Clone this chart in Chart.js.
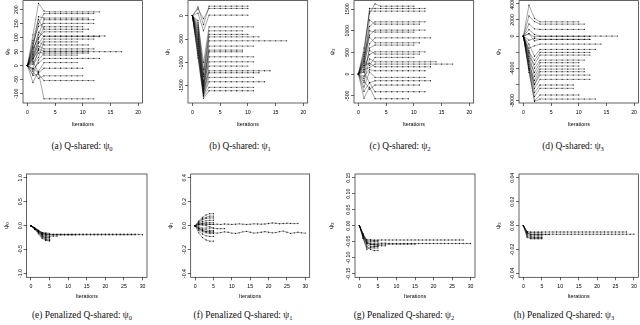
<!DOCTYPE html>
<html>
<head>
<meta charset="utf-8">
<script src="https://cdn.jsdelivr.net/npm/chart.js@4.4.0/dist/chart.umd.min.js"></script>
<style>
  html, body { margin: 0; padding: 0; background: #fff; }
  body { width: 640px; height: 325px; position: relative; overflow: hidden; }
  .cap { position: absolute; z-index: 2; font-family: "Liberation Serif", serif; font-size: 9.4px; white-space: nowrap; transform: translate(-50%, -50%); color: #111; }
  .cap sub { font-size: 70%; vertical-align: -0.3em; line-height: 0; }
</style>
</head>
<body>
<div class="cap" style="left:82px;top:146px">(a) Q-shared: ψ<sub>0</sub></div>
<div class="cap" style="left:240px;top:146px">(b) Q-shared: ψ<sub>1</sub></div>
<div class="cap" style="left:400px;top:146px">(c) Q-shared: ψ<sub>2</sub></div>
<div class="cap" style="left:573px;top:146px">(d) Q-shared: ψ<sub>3</sub></div>
<div class="cap" style="left:82px;top:315px">(e) Penalized Q-shared: ψ<sub>0</sub></div>
<div class="cap" style="left:243px;top:315px">(f) Penalized Q-shared: ψ<sub>1</sub></div>
<div class="cap" style="left:404px;top:315px">(g) Penalized Q-shared: ψ<sub>2</sub></div>
<div class="cap" style="left:564px;top:315px">(h) Penalized Q-shared: ψ<sub>3</sub></div>
<script>
// iteration index (x values)
const iterations = [0, 1, 2, 3, 4, 5, 6, 7, 8, 9, 10, 11, 12, 13, 14, 15, 16, 17, 18, 19, 20, 21, 22, 23, 24, 25, 26, 27, 28, 29, 30];
const xTicksShared = [0, 5, 10, 15, 20];
const xTicksPenalized = [0, 5, 10, 15, 20, 25, 30];

// y ticks / labels
const yTicksA = [-100, -50, 0, 50, 100, 150, 200];
const yLabelsA = ['-100', '-50', '0', '50', '100', '150', '200'];
const yTicksB = [-1500, -1000, -500, 0];
const yLabelsB = ['-1500', '-1000', '-500', '0'];
const yTicksC = [-500, 0, 500, 1000, 1500];
const yLabelsC = ['-500', '0', '500', '1000', '1500'];
const yTicksD = [-8000, -6000, -4000, -2000, 0, 2000, 4000];
const yLabelsD = ['-8000', '', '-4000', '', '0', '2000', '4000'];
const yTicksE = [-1, -0.5, 0, 0.5, 1];
const yLabelsE = ['-1.0', '-0.5', '0.0', '0.5', '1.0'];
const yTicksF = [-0.4, -0.2, 0, 0.2, 0.4];
const yLabelsF = ['-0.4', '-0.2', '0.0', '0.2', '0.4'];
const yTicksG = [-0.15, -0.1, -0.05, 0, 0.05, 0.1, 0.15];
const yLabelsG = ['-0.15', '-0.10', '-0.05', '0.00', '0.05', '0.10', '0.15'];
const yTicksH = [-0.04, -0.02, 0, 0.02, 0.04];
const yLabelsH = ['-0.04', '-0.02', '0.00', '0.02', '0.04'];

// (a) Q-shared psi0 trajectories, one value per iteration
const psi0Shared = [
  [0, 110, 222, 195, 192, 192, 192, 192, 192, 192, 192, 192, 192, 192],
  [0, 70, 150, 186, 186, 186, 186, 186, 186, 186, 186, 186, 186],
  [0, 65, 175, 170, 170, 170, 170, 170, 170, 170, 170, 170],
  [0, 50, 110, 164, 164, 164, 164, 164, 164, 164, 164, 164, 164],
  [0, 80, 140, 151, 151, 151, 151, 151, 151, 151, 151, 151, 151],
  [0, 30, 95, 139, 139, 139, 139, 139, 139, 139, 139],
  [0, 90, 165, 130, 130, 130, 130, 130, 130, 130, 130, 130],
  [0, 60, 100, 121, 121, 121, 121, 121, 121, 121, 121],
  [0, 20, 80, 106, 106, 106, 106, 106, 106, 106, 106, 106, 106, 106, 106],
  [0, 45, 120, 104, 104, 104, 104, 104, 104, 104, 104, 104, 104, 104],
  [0, -10, 60, 95, 95, 95, 95, 95, 95, 95, 95, 95, 95],
  [0, 5, 30, 85, 85, 85, 85, 85, 85, 85],
  [0, 40, 85, 74, 74, 74, 74, 74, 74, 74, 74, 74],
  [0, 35, 70, 60, 60, 60, 60, 60, 60, 60, 60, 60, 60],
  [0, 10, 45, 50, 50, 50, 50, 50, 50, 50, 50, 50, 50, 50, 50, 50, 50, 50],
  [0, 25, 60, 52, 52, 52, 52, 52, 52, 52, 52, 52],
  [0, -30, 20, 45, 45, 45, 45, 45, 45, 45, 45, 45],
  [0, 25, 55, 38, 38, 38, 38, 38, 38, 38],
  [0, -15, 10, 26, 26, 26, 26, 26, 26, 26, 26, 26, 26, 26],
  [0, -60, -20, 11, 11, 11, 11, 11, 11, 11],
  [0, 15, -25, -9, -9, -9, -9, -9, -9, -9, -9],
  [0, -20, -45, -36, -36, -36, -36, -36, -36, -36, -36],
  [0, -35, -30, -53, -53, -53, -53, -53, -53, -53, -53, -53, -53],
  [0, -10, -25, -118, -118, -118, -118, -118, -118, -118, -118, -118, -118]
];

// (b) Q-shared psi1
const psi1Shared = [
  [0, 190, -190, 207, 207, 207, 207, 207, 207, 207, 207],
  [0, 150, -60, 158, 158, 158, 158, 158, 158, 158, 158],
  [0, 60, -320, 15, 15, 15, 15, 15, 15, 15, 15],
  [0, -150, -1000, -235, -235, -235, -235, -235, -235, -235, -235, -235],
  [0, -250, -1150, -320, -320, -320, -320, -320, -320, -320],
  [0, -400, -1300, -397, -397, -397, -397, -397, -397, -397, -397],
  [0, -100, -1250, -449, -449, -449, -449, -449, -449, -449, -449, -449, -449],
  [0, -300, -1450, -534, -534, -534, -534, -534, -534, -534, -534, -534, -534, -534, -534, -534, -534, -534],
  [0, -500, -1500, -647, -647, -647, -647, -647, -647, -647, -647, -647],
  [0, -600, -1550, -733, -733, -733, -733, -733, -733, -733],
  [0, -200, -1400, -769, -769, -769, -769, -769, -769, -769],
  [0, -700, -1600, -876, -876, -876, -876, -876, -876, -876, -876, -876],
  [0, -350, -1500, -983, -983, -983, -983, -983, -983, -983, -983, -983],
  [0, -800, -1650, -1075, -1075, -1075, -1075, -1075, -1075, -1075, -1075],
  [0, -450, -1600, -1175, -1175, -1175, -1175, -1175, -1175, -1175, -1175, -1175, -1175, -1175, -1175],
  [0, -550, -1650, -1218, -1218, -1218, -1218, -1218, -1218, -1218, -1218, -1218, -1218],
  [0, -650, -1700, -1316, -1316, -1316, -1316, -1316, -1316, -1316, -1316, -1316],
  [0, -750, -1700, -1410, -1410, -1410, -1410, -1410, -1410, -1410, -1410, -1410, -1410, -1410],
  [0, -900, -1720, -1530, -1530, -1530, -1530, -1530, -1530, -1530, -1530, -1530],
  [0, -850, -1765, -1603, -1603, -1603, -1603, -1603, -1603, -1603, -1603, -1603]
];

// (c) Q-shared psi2
const psi2Shared = [
  [0, 600, 1400, 1620, 1567, 1567, 1567, 1567, 1567, 1567, 1567],
  [0, 400, 1513, 1513, 1513, 1513, 1513, 1513, 1513, 1513, 1513, 1513, 1513],
  [0, 500, 1452, 1452, 1452, 1452, 1452, 1452, 1452, 1452, 1452, 1452, 1452],
  [0, 300, 1100, 1205, 1205, 1205, 1205, 1205, 1205, 1205, 1205, 1205, 1205],
  [0, 200, 1250, 1152, 1152, 1152, 1152, 1152, 1152, 1152, 1152, 1152],
  [0, 450, 900, 1014, 1014, 1014, 1014, 1014, 1014, 1014, 1014, 1014, 1014],
  [0, 100, 1000, 968, 968, 968, 968, 968, 968, 968, 968],
  [0, 250, 700, 836, 836, 836, 836, 836, 836, 836, 836, 836, 836, 836],
  [0, 350, 850, 721, 721, 721, 721, 721, 721, 721, 721, 721],
  [0, -100, 600, 668, 668, 668, 668, 668, 668, 668, 668],
  [0, 150, 450, 514, 514, 514, 514, 514, 514, 514, 514, 514, 514],
  [0, 50, 550, 461, 461, 461, 461, 461, 461, 461, 461, 461],
  [0, 300, 200, 385, 385, 385, 385, 385, 385, 385, 385],
  [0, -200, 350, 283, 283, 283, 283, 283, 283, 283, 283, 283, 283, 283, 283],
  [0, 100, 150, 230, 230, 230, 230, 230, 230, 230, 230, 230, 230, 230, 230, 230, 230, 230],
  [0, 200, 250, 168, 168, 168, 168, 168, 168, 168, 168, 168, 168, 168],
  [0, -50, 100, 76, 76, 76, 76, 76, 76, 76, 76, 76, 76],
  [0, -300, 50, -76, -76, -76, -76, -76, -76, -76, -76, -76, -76],
  [0, 50, -200, -154, -154, -154, -154, -154, -154, -154, -154, -154, -154, -154],
  [0, -150, -350, -253, -253, -253, -253, -253, -253, -253, -253, -253],
  [0, -400, -200, -408, -408, -408, -408, -408, -408, -408, -408, -408, -408],
  [0, -560, -300, -570, -570, -570, -570, -570, -570, -570]
];

// (d) Q-shared psi3
const psi3Shared = [
  [0, 3837, 2200, 1770, 1770, 1770, 1770, 1770, 1770, 1770, 1770],
  [0, 2500, 1800, 1485, 1485, 1485, 1485, 1485, 1485, 1485, 1485, 1485],
  [0, 1500, 900, 830, 830, 830, 830, 830, 830, 830, 830, 830],
  [0, 800, 200, 0, 0, 0, 0, 0, 0, 0, 0, 0, 0, 0, 0, 0, 0, 0],
  [0, 300, -100, -30, -30, -30, -30, -30, -30, -30, -30, -30, -30],
  [0, -500, -300, -410, -410, -410, -410, -410, -410, -410, -410, -410, -410],
  [0, 300, -600, -400, -400, -400, -400, -400, -400, -400, -400, -400, -400],
  [0, -1500, -1200, -990, -990, -990, -990, -990, -990, -990, -990, -990, -990, -990, -990],
  [0, -1000, -2500, -1650, -1650, -1650, -1650, -1650, -1650, -1650, -1650, -1650, -1650, -1650],
  [0, -2000, -3000, -2020, -2020, -2020, -2020, -2020, -2020, -2020, -2020, -2020, -2020],
  [0, -2500, -3500, -2350, -2350, -2350, -2350, -2350, -2350, -2350, -2350, -2350, -2350],
  [0, -1800, -4000, -2970, -2970, -2970, -2970, -2970, -2970, -2970, -2970, -2970],
  [0, -3000, -4500, -3300, -3300, -3300, -3300, -3300, -3300, -3300, -3300],
  [0, -2200, -5000, -3710, -3710, -3710, -3710, -3710, -3710, -3710, -3710],
  [0, -3500, -5500, -4085, -4085, -4085, -4085, -4085, -4085, -4085, -4085, -4085],
  [0, -2800, -6000, -4415, -4415, -4415, -4415, -4415, -4415, -4415, -4415, -4415],
  [0, -4000, -6000, -4830, -4830, -4830, -4830, -4830, -4830, -4830, -4830, -4830, -4830],
  [0, -3200, -6500, -5360, -5360, -5360, -5360, -5360, -5360, -5360, -5360, -5360, -5360],
  [0, -3800, -7000, -6060, -6060, -6060, -6060, -6060, -6060, -6060],
  [0, -4200, -7500, -6470, -6470, -6470, -6470, -6470, -6470, -6470],
  [0, -4500, -8000, -7300, -7300, -7300, -7300, -7300, -7300, -7300, -7300],
  [0, -4000, -8100, -7800, -7800, -7800, -7800, -7800, -7800, -7800, -7800, -7800, -7800, -7800]
];

// (e) penalized psi0
const psi0Penalized = [
  [0, -0.05, -0.1, -0.15, -0.17, -0.18],
  [0, -0.06, -0.12, -0.2, -0.24, -0.25],
  [0, -0.07, -0.15, -0.25, -0.29, -0.3],
  [0, -0.08, -0.17, -0.27, -0.31, -0.32],
  [0, -0.06, -0.13, -0.22, -0.27, -0.28],
  [0, -0.05, -0.11, -0.17, -0.22, -0.23],
  [0, -0.05, -0.1, -0.14, -0.15, -0.16],
  [0, -0.07, -0.14, -0.23, -0.25, -0.26],
  [0, -0.06, -0.13, -0.19, -0.3, -0.31],
  [0, -0.05, -0.11, -0.18, -0.21, -0.22, -0.22, -0.22],
  [0, -0.05, -0.1, -0.16, -0.18, -0.19, -0.19, -0.19, -0.19, -0.19, -0.19, -0.19, -0.19],
  [0, -0.05, -0.1, -0.15, -0.17, -0.18, -0.18, -0.18, -0.18, -0.18, -0.18, -0.18, -0.18, -0.18, -0.18, -0.18, -0.18, -0.18, -0.18, -0.18, -0.18, -0.18, -0.18, -0.18, -0.18, -0.18, -0.18, -0.18, -0.18, -0.185, -0.19],
  [0, -0.06, -0.12, -0.17, -0.19, -0.19, -0.19, -0.19, -0.19, -0.19, -0.19, -0.19, -0.19, -0.19, -0.19, -0.19, -0.19, -0.19, -0.19, -0.19, -0.19, -0.19, -0.19, -0.19, -0.19, -0.19, -0.19, -0.19, -0.19]
];

// (f) penalized psi1
const psi1Penalized = [
  [0, 0.04, 0.07, 0.09, 0.1, 0.1],
  [0, 0.03, 0.06, 0.07, 0.08, 0.08],
  [0, 0.03, 0.05, 0.06, 0.065, 0.065],
  [0, 0.02, 0.035, 0.04, 0.045, 0.045],
  [0, 0.01, 0.02, 0.025, 0.025, 0.025],
  [0, 0.005, 0.01, 0.01, 0.012, 0.012],
  [0, -0.01, -0.02, -0.02, -0.02, -0.02],
  [0, -0.02, -0.03, -0.035, -0.04, -0.04],
  [0, -0.025, -0.04, -0.05, -0.05, -0.05],
  [0, -0.03, -0.05, -0.06, -0.065, -0.065],
  [0, -0.04, -0.07, -0.085, -0.09, -0.09],
  [0, -0.06, -0.1, -0.12, -0.13, -0.13],
  [0, 0.01, 0.005, 0, -0.01, -0.02, -0.025, -0.025, -0.025],
  [0, 0.015, 0.02, 0.015, 0.01, 0.01, 0.012, 0.01, 0.014, 0.012, 0.01, 0.012, 0.015, 0.012, 0.01, 0.012, 0.015, 0.014, 0.012, 0.014, 0.018, 0.022, 0.02, 0.016, 0.018, 0.02, 0.018, 0.017, 0.018],
  [0, -0.02, -0.04, -0.05, -0.055, -0.06, -0.062, -0.058, -0.052, -0.055, -0.062, -0.065, -0.06, -0.052, -0.048, -0.055, -0.062, -0.06, -0.055, -0.05, -0.055, -0.06, -0.058, -0.05, -0.045, -0.055, -0.065, -0.06, -0.055, -0.06, -0.062]
];

// (g) penalized psi2
const psi2Penalized = [
  [0, -0.04, -0.07, -0.07, -0.07, -0.07],
  [0, -0.035, -0.065, -0.075, -0.078, -0.078],
  [0, -0.03, -0.05, -0.05, -0.05, -0.05],
  [0, -0.03, -0.055, -0.06, -0.06, -0.06],
  [0, -0.035, -0.06, -0.065, -0.065, -0.065],
  [0, -0.03, -0.045, -0.045, -0.047, -0.047],
  [0, -0.04, -0.075, -0.068, -0.066, -0.065],
  [0, -0.03, -0.055, -0.058, -0.06, -0.062, -0.063, -0.063],
  [0, -0.025, -0.045, -0.045, -0.045, -0.045, -0.045, -0.045, -0.045, -0.045, -0.045, -0.045, -0.045, -0.045, -0.045, -0.045, -0.045, -0.045, -0.045, -0.045, -0.045, -0.045, -0.045, -0.045, -0.045, -0.045, -0.045, -0.045, -0.045],
  [0, -0.03, -0.052, -0.055, -0.055, -0.055, -0.055, -0.055, -0.056, -0.056, -0.056, -0.056, -0.056, -0.056, -0.056, -0.056, -0.056, -0.056, -0.056, -0.056, -0.056, -0.056, -0.056, -0.056, -0.056, -0.056, -0.056, -0.056, -0.056, -0.056, -0.056],
  [0, -0.03, -0.055, -0.058, -0.058, -0.058, -0.058, -0.058, -0.058, -0.058, -0.058, -0.058, -0.058, -0.058, -0.058, -0.058]
];

// (h) penalized psi3
const psi3Penalized = [
  [0, -0.008, -0.01, -0.01, -0.01, -0.01],
  [0, -0.009, -0.011, -0.011, -0.011, -0.011],
  [0, -0.006, -0.008, -0.008, -0.008, -0.008],
  [0, -0.007, -0.009, -0.0095, -0.0095, -0.0095],
  [0, -0.005, -0.006, -0.006, -0.006, -0.006],
  [0, -0.01, -0.0105, -0.0105, -0.0105, -0.0105],
  [0, -0.006, -0.0075, -0.0075, -0.0075, -0.0075, -0.0075, -0.0075],
  [0, -0.005, -0.0053, -0.0053, -0.0053, -0.0053, -0.0053, -0.0053, -0.0053, -0.0053, -0.0053, -0.0053, -0.0053, -0.0053, -0.0053, -0.0053, -0.0053, -0.0053, -0.0053, -0.0053, -0.0053, -0.0053, -0.0053, -0.0053, -0.0053, -0.0053, -0.0053, -0.0053, -0.0053],
  [0, -0.006, -0.0072, -0.0072, -0.0072, -0.0072, -0.0072, -0.0072, -0.0072, -0.0072, -0.0072, -0.0072, -0.0072, -0.0072, -0.0072, -0.0072, -0.0072, -0.0072, -0.0072, -0.0072, -0.0072, -0.0072, -0.0072, -0.0072, -0.0072, -0.0072, -0.0072, -0.0072, -0.0072, -0.0072, -0.0072]
];

// panel layout (page pixels of the plot frame)
const panels = [
  { col: 0, row: 0, series: psi0Shared, yMin: -133, yMax: 232, yTicks: yTicksA, yLabels: yLabelsA, title: 'ψ₀', titleX: 7, box: { l: 23, r: 142.5, t: 0.5, b: 103 } },
  { col: 1, row: 0, series: psi1Shared, yMin: -1865, yMax: 325, yTicks: yTicksB, yLabels: yLabelsB, title: 'ψ₁', titleX: 7.3, box: { l: 188, r: 307.7, t: 0.5, b: 103 } },
  { col: 2, row: 0, series: psi2Shared, yMin: -668, yMax: 1694, yTicks: yTicksC, yLabels: yLabelsC, title: 'ψ₂', titleX: 12.7, box: { l: 354, r: 473.7, t: 0.5, b: 103 } },
  { col: 3, row: 0, series: psi3Shared, yMin: -8292, yMax: 4394, yTicks: yTicksD, yLabels: yLabelsD, title: 'ψ₃', titleX: 18, box: { l: 519, r: 638.5, t: 0.5, b: 103 } },
  { col: 0, row: 1, series: psi0Penalized, yMin: -1.08, yMax: 1.08, yTicks: yTicksE, yLabels: yLabelsE, title: 'ψ₀', titleX: 6, box: { l: 26.5, r: 147, t: 174, b: 277.3 } },
  { col: 1, row: 1, series: psi1Penalized, yMin: -0.432, yMax: 0.432, yTicks: yTicksF, yLabels: yLabelsF, title: 'ψ₁', titleX: 10, box: { l: 190.7, r: 309.7, t: 174, b: 277.3 } },
  { col: 2, row: 1, series: psi2Penalized, yMin: -0.162, yMax: 0.162, yTicks: yTicksG, yLabels: yLabelsG, title: 'ψ₂', titleX: 11, box: { l: 355, r: 475, t: 174, b: 277.3 } },
  { col: 3, row: 1, series: psi3Penalized, yMin: -0.0432, yMax: 0.0432, yTicks: yTicksH, yLabels: yLabelsH, title: 'ψ₃', titleX: 18, box: { l: 519, r: 638.3, t: 174, b: 277.3 } }
];

const sans = "'Liberation Sans', Arial, sans-serif";
const tickSize = 5.2;
const titleSize = 5.4;
const tickLen = 3;

const measureCtx = document.createElement('canvas').getContext('2d');
function widest(labels) {
  measureCtx.font = tickSize + 'px ' + sans;
  return Math.max(...labels.map(t => measureCtx.measureText(t).width));
}

// R style box around the plotting region
const frame = {
  id: 'frame',
  afterDraw(chart) {
    const a = chart.chartArea, c = chart.ctx;
    c.save();
    c.strokeStyle = '#222';
    c.lineWidth = 0.7;
    c.strokeRect(a.left, a.top, a.right - a.left, a.bottom - a.top);
    c.restore();
  }
};

function drawPanel(p) {
  const cx = p.col * 160;
  const cy = p.row === 0 ? 0 : 160;
  const cw = 160, ch = p.row === 0 ? 136 : 148;
  const xTitleY = p.row === 0 ? 125 : 297;
  const xTicks = p.row === 0 ? xTicksShared : xTicksPenalized;
  const xMax = xTicks[xTicks.length - 1];
  const xPad = xMax * 0.04;

  const canvas = document.createElement('canvas');
  canvas.width = cw;
  canvas.height = ch;
  canvas.style.cssText = 'position:absolute;left:' + cx + 'px;top:' + cy + 'px;width:' + cw + 'px;height:' + ch + 'px';
  document.body.appendChild(canvas);

  const b = p.box;
  const yAxisW = b.l - cx;
  const xAxisH = cy + ch - b.b;
  const labelGap = 6;   // distance frame -> centre of rotated label
  const yPad = labelGap - tickLen - widest(p.yLabels) / 2;

  new Chart(canvas, {
    type: 'line',
    data: {
      labels: iterations,
      datasets: p.series.map(s => ({
        data: s,
        borderColor: 'rgba(0,0,0,0.7)',
        borderWidth: 0.5,
        pointRadius: 0.65,
        pointHoverRadius: 0,
        pointBackgroundColor: 'rgba(0,0,0,0.85)',
        pointBorderWidth: 0,
        tension: 0
      }))
    },
    options: {
      responsive: false,
      animation: false,
      devicePixelRatio: 1,
      events: [],
      layout: { padding: { top: b.t - cy, right: cx + cw - b.r, left: 0, bottom: 0 } },
      plugins: { legend: { display: false }, tooltip: { enabled: false } },
      scales: {
        x: {
          type: 'linear',
          min: -xPad,
          max: xMax + xPad,
          afterBuildTicks: s => { s.ticks = xTicks.map(v => ({ value: v })); },
          afterFit: s => { s.height = xAxisH; s.paddingLeft = 0; s.paddingRight = 0; },
          border: { display: false },
          grid: { drawOnChartArea: false, drawTicks: true, tickLength: tickLen, tickColor: '#000', tickWidth: 0.6 },
          ticks: { color: '#000', font: { family: sans, size: tickSize }, padding: 3.5, maxRotation: 0, autoSkip: false,
                   callback: v => String(v) },
          title: { display: true, text: 'Iterations', color: '#000', font: { family: sans, size: titleSize },
                   padding: { top: 0, bottom: cy + ch - xTitleY - titleSize * 0.6 } }
        },
        y: {
          type: 'linear',
          min: p.yMin,
          max: p.yMax,
          afterBuildTicks: s => { s.ticks = p.yTicks.map(v => ({ value: v })); },
          afterFit: s => { s.width = yAxisW; s.paddingTop = 0; s.paddingBottom = 0; },
          border: { display: false },
          grid: { drawOnChartArea: false, drawTicks: true, tickLength: tickLen, tickColor: '#000', tickWidth: 0.6 },
          ticks: { color: '#000', font: { family: sans, size: tickSize }, padding: yPad, minRotation: 90, maxRotation: 90,
                   crossAlign: 'center', autoSkip: false, callback: (v, i) => p.yLabels[i] },
          title: { display: true, text: p.title, color: '#000', font: { family: sans, size: titleSize + 0.6 },
                   padding: { top: p.titleX - (titleSize + 0.6) * 0.6, bottom: 0 } }
        }
      }
    },
    plugins: [frame]
  });
}

panels.forEach(drawPanel);
</script>
</body>
</html>
